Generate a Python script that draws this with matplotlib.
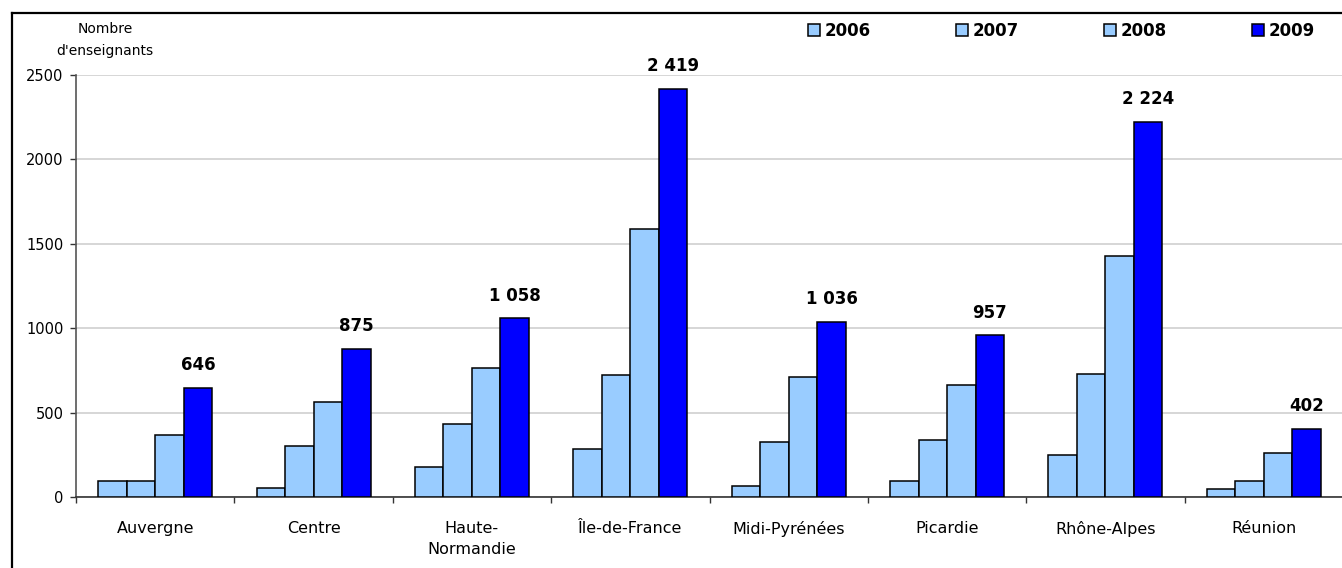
#!/usr/bin/env python3
"""Nombre d'enseignants par académie, 2006-2009."""

import matplotlib

matplotlib.use("Agg")
import matplotlib.pyplot as plt
from matplotlib.lines import Line2D
import numpy as np


REGIONS = [
    "Auvergne",
    "Centre",
    "Haute-\nNormandie",
    "Île-de-France",
    "Midi-Pyrénées",
    "Picardie",
    "Rhône-Alpes",
    "Réunion",
]
YEARS = ["2006", "2007", "2008", "2009"]
V2006 = [95, 56, 175, 282, 67, 97, 250, 49]
V2007 = [95, 305, 431, 721, 327, 339, 729, 97]
V2008 = [365, 565, 766, 1590, 711, 662, 1426, 260]
V2009 = [646, 875, 1058, 2419, 1036, 957, 2224, 402]
COLORS = ["#99ccff", "#99ccff", "#99ccff", "#0000ff"]
YTICKS = [0, 500, 1000, 1500, 2000, 2500]

W, H = 1342, 568

plt.rcParams.update(
    {
        "font.family": ["DejaVu Sans"],
        "font.size": 10.5,
    }
)


def fmt(v: int) -> str:
    return f"{v:,}".replace(",", " ")


def main() -> None:
    fig = plt.figure(figsize=(W / 100, H / 100), dpi=100)
    ax = fig.add_axes([76 / W, 1 - 497 / H, (1343 - 76) / W, (497 - 75) / H])

    x = np.arange(len(REGIONS))
    width = 0.18
    series = [V2006, V2007, V2008, V2009]
    bars = []
    for i, (vals, color, year) in enumerate(zip(series, COLORS, YEARS)):
        b = ax.bar(
            x + (i - 1.5) * width,
            vals,
            width,
            color=color,
            edgecolor="black",
            linewidth=1.1,
            label=year,
            zorder=3,
        )
        bars.append(b)

    for rect, v in zip(bars[-1], V2009):
        ax.annotate(
            fmt(v),
            (rect.get_x() + rect.get_width() / 2, rect.get_height()),
            xytext=(0, 10),
            textcoords="offset points",
            ha="center",
            va="bottom",
            fontsize=12,
            fontweight="bold",
        )

    ax.set_xlim(-0.5, len(REGIONS) - 0.5)
    ax.set_ylim(0, 2500)
    ax.set_yticks(YTICKS)
    ax.set_yticklabels([str(t) for t in YTICKS])
    ax.yaxis.grid(True, color="#d0d0d0", linewidth=1.2, zorder=0)
    ax.set_axisbelow(True)

    ax.set_xticks(x)
    ax.set_xticklabels(REGIONS, fontsize=11.5, linespacing=1.55, va="top")
    ax.set_xticks(np.arange(len(REGIONS) + 1) - 0.5, minor=True)
    ax.tick_params(axis="x", which="major", length=0, pad=17)
    ax.tick_params(axis="x", which="minor", length=4.5, width=1, color="#333333")
    ax.tick_params(axis="y", length=4, width=1, color="#333333", pad=5, labelsize=10.5)

    for side in ("top", "right"):
        ax.spines[side].set_visible(False)
    ax.spines["left"].set_color("#555555")
    ax.spines["bottom"].set_color("#333333")
    ax.spines["left"].set_linewidth(1.2)
    ax.spines["bottom"].set_linewidth(1.2)

    fig.text(105 / W, 1 - 40 / H, "Nombre\nd'enseignants", ha="center", va="center",
             fontsize=10, linespacing=1.75)

    fig.legend(
        handles=bars,
        labels=YEARS,
        loc="center left",
        bbox_to_anchor=(800 / W, 1 - 31 / H),
        ncol=4,
        frameon=False,
        borderpad=0,
        handlelength=0.7,
        handleheight=0.7,
        handletextpad=0.3,
        columnspacing=5.1,
        prop={"weight": "bold", "size": 12},
    )

    # outer frame, cut at the right and bottom edges
    fx, fy = 12 / W, 1 - 13 / H
    fig.add_artist(Line2D([fx, 1.01], [fy, fy], color="black", linewidth=1.6,
                          transform=fig.transFigure))
    fig.add_artist(Line2D([fx, fx], [-0.01, fy], color="black", linewidth=1.6,
                          transform=fig.transFigure))

    fig.savefig("out.png", dpi=100)
    plt.close(fig)


if __name__ == "__main__":
    main()
